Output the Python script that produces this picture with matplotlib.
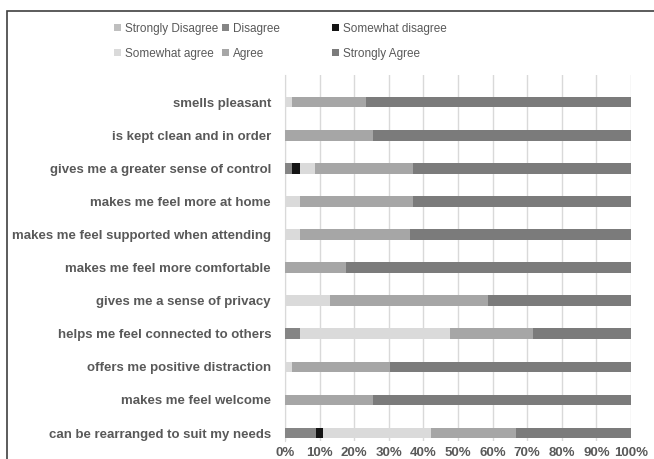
import matplotlib
matplotlib.use('Agg')
import matplotlib.pyplot as plt
from matplotlib.patches import Patch, Rectangle
import numpy as np

plt.rcParams['font.family'] = ['Liberation Sans', 'DejaVu Sans']

statements = [
    'smells pleasant',
    'is kept clean and in order',
    'gives me a greater sense of control',
    'makes me feel more at home',
    'makes me feel supported when attending',
    'makes me feel more comfortable',
    'gives me a sense of privacy',
    'helps me feel connected to others',
    'offers me positive distraction',
    'makes me feel welcome',
    'can be rearranged to suit my needs',
]

categories = ['Strongly Disagree', 'Disagree', 'Somewhat disagree',
              'Somewhat agree', 'Agree', 'Strongly Agree']
colors = ['#bfbfbf', '#858585', '#141414', '#dadada', '#a6a6a6', '#7b7b7b']

# percentages per statement, same order as statements
strongly_disagree = [0, 0, 0, 0, 0, 0, 0, 0, 0, 0, 0]
disagree = [0, 0, 1.9, 0, 0, 0, 0, 4.2, 0, 0, 8.9]
somewhat_disagree = [0, 0, 2.3, 0, 0, 0, 0, 0, 0, 0, 2.1]
somewhat_agree = [2.0, 0, 4.4, 4.3, 4.3, 0, 13.0, 43.5, 2.0, 0, 31.1]
agree = [21.5, 25.3, 28.4, 32.7, 31.8, 17.5, 45.7, 24.0, 28.4, 25.3, 24.6]
strongly_agree = [76.5, 74.7, 63.0, 63.0, 63.9, 82.5, 41.3, 28.3, 69.6, 74.7, 33.3]

series = [strongly_disagree, disagree, somewhat_disagree,
          somewhat_agree, agree, strongly_agree]

fig = plt.figure(figsize=(6.54, 4.59), dpi=100)
ax = fig.add_axes([285 / 654, 18 / 459, 346 / 654, 366 / 459])

y = np.arange(len(statements))
left = np.zeros(len(statements))
for vals, col, name in zip(series, colors, categories):
    vals = np.array(vals, dtype=float)
    ax.barh(y, vals, left=left, height=0.32, color=col, label=name, zorder=3)
    left += vals

ax.set_xlim(0, 100)
ax.set_ylim(10.24, -0.82)
ax.set_xticks(np.arange(0, 101, 10))
ax.set_xticklabels([f'{t}%' for t in range(0, 101, 10)])
ax.set_yticks(y)
ax.set_yticklabels(statements)
ax.grid(axis='x', color='#d9d9d9', linewidth=1, zorder=0)
for s in ['top', 'right', 'bottom']:
    ax.spines[s].set_visible(False)
ax.spines['left'].set_color('#d9d9d9')
ax.tick_params(axis='both', length=0, colors='#595959', labelsize=9.5)
ax.tick_params(axis='y', pad=10)
ax.tick_params(axis='x', pad=4)
for lab in ax.get_xticklabels() + ax.get_yticklabels():
    lab.set_fontweight('bold')

# legend, laid out in three equal-width columns like the original
handles = [Patch(facecolor=c, edgecolor='none') for c in colors]
col_x = [108 / 654, 216 / 654, 326 / 654]
for i, cx in enumerate(col_x):
    leg = fig.legend([handles[i], handles[i + 3]], [categories[i], categories[i + 3]],
                     loc='upper left', bbox_to_anchor=(cx, 1 - 17 / 459),
                     frameon=False, ncol=1, handlelength=0.6, handleheight=0.6,
                     handletextpad=0.3, labelspacing=1.1, borderpad=0,
                     prop={'size': 8.5})
    for t in leg.get_texts():
        t.set_color('#595959')

# outer frame of the chart
fig.patches.append(Rectangle((7 / 654, -0.1), 1.2, 1 - 11 / 459 + 0.1,
                             transform=fig.transFigure, fill=False,
                             edgecolor='#404040', linewidth=1.2))

fig.savefig('out.png', dpi=100)
